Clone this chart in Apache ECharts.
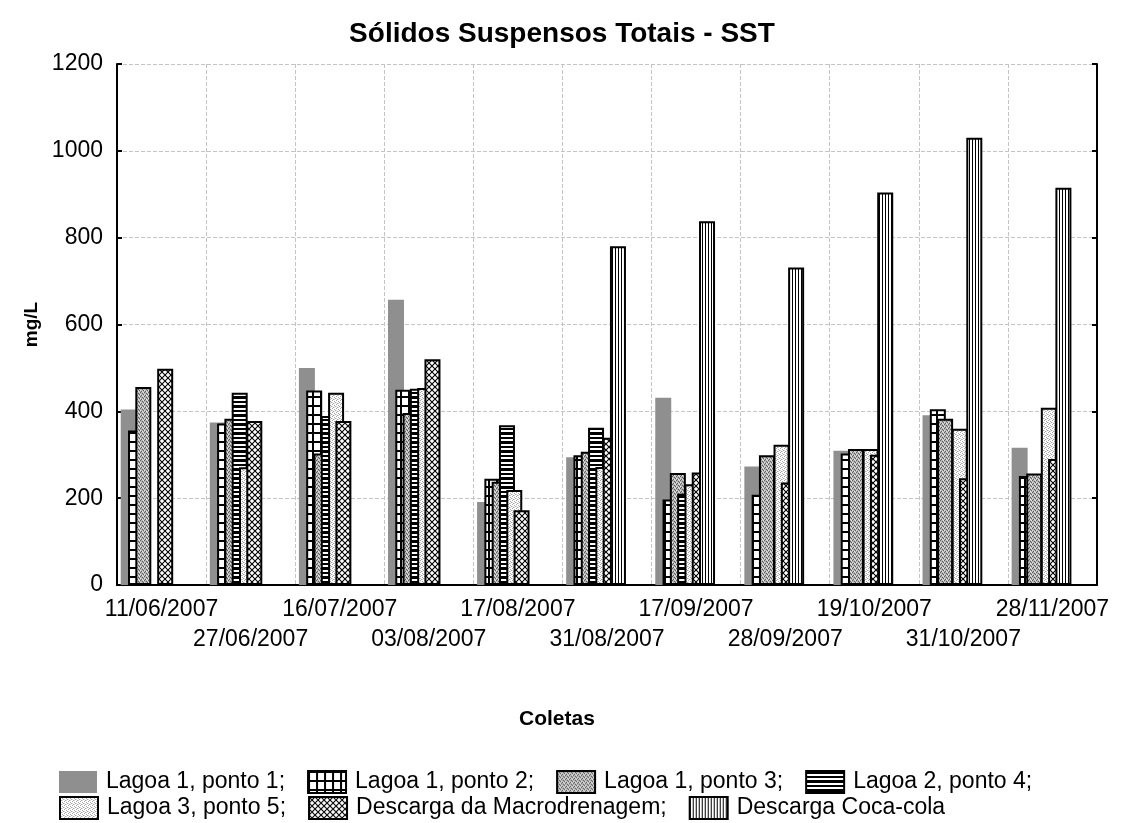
<!DOCTYPE html>
<html>
<head>
<meta charset="utf-8">
<script src="https://cdn.jsdelivr.net/npm/echarts@6/dist/echarts.min.js"></script>
<style>
html, body { margin: 0; padding: 0; background: #fff; }
#main { width: 1124px; height: 823px; }
</style>
</head>
<body>
<div id="main"></div>
<script>
var coletas = ['11/06/2007', '27/06/2007', '16/07/2007', '03/08/2007', '17/08/2007', '31/08/2007',
    '17/09/2007', '28/09/2007', '19/10/2007', '31/10/2007', '28/11/2007'];

var lagoa1p1 = [404, 374, 500, 657, 191, 294, 431, 273, 309, 391, 316];
var lagoa1p2 = [356, 372, 448, 450, 245, 299, 197, 208, 303, 405, 251];
var lagoa1p3 = [456, 383, 303, 396, 238, 307, 258, 299, 313, 383, 257];
var lagoa2p4 = [null, 443, 389, 452, 368, 362, 210, null, null, null, null];
var lagoa3p5 = [null, 271, 443, 454, 219, 272, 232, 323, 313, 360, 408];
var macro = [498, 378, 378, 520, 172, 339, 259, 236, 300, 246, 290];
var cocacola = [null, null, null, null, null, 780, 838, 731, 904, 1030, 915];

var yTicks = [0, 200, 400, 600, 800, 1000, 1200];

var nomes = ['Lagoa 1, ponto 1', 'Lagoa 1, ponto 2', 'Lagoa 1, ponto 3', 'Lagoa 2, ponto 4',
    'Lagoa 3, ponto 5', 'Descarga da Macrodrenagem', 'Descarga Coca-cola'];

// small canvas patterns to mimic the hatch fills
function pattern(w, h, draw) {
    var c = document.createElement('canvas');
    c.width = w;
    c.height = h;
    var ctx = c.getContext('2d');
    ctx.fillStyle = '#fff';
    ctx.fillRect(0, 0, w, h);
    draw(ctx);
    return { image: c, repeat: 'repeat' };
}

function dots(ctx, cor, pts) {
    ctx.fillStyle = cor;
    for (var k = 0; k < pts.length; k++) {
        ctx.fillRect(pts[k][0], pts[k][1], 1, 1);
    }
}

var patGrade = pattern(8, 9, function (ctx) {
    ctx.fillStyle = '#000';
    ctx.fillRect(0, 0, 8, 2);
    ctx.fillRect(0, 0, 2, 9);
});
var patPontos = pattern(4, 4, function (ctx) {
    ctx.fillStyle = '#b4b4b4';
    ctx.fillRect(0, 0, 4, 4);
    dots(ctx, '#5e5e5e', [[0, 0], [2, 1], [1, 3], [3, 2]]);
    dots(ctx, '#e6e6e6', [[2, 3], [0, 2], [3, 0]]);
});
var patListras = pattern(4, 9, function (ctx) {
    ctx.fillStyle = '#000';
    ctx.fillRect(0, 0, 4, 3);
    ctx.fillRect(0, 5, 4, 2);
});
var patClaro = pattern(4, 4, function (ctx) {
    dots(ctx, '#a6a6a6', [[0, 0], [2, 1], [1, 3], [3, 2]]);
    dots(ctx, '#d6d6d6', [[2, 3], [0, 2]]);
});
var patCruzado = pattern(6, 6, function (ctx) {
    ctx.strokeStyle = '#000';
    ctx.lineWidth = 1.1;
    ctx.beginPath();
    ctx.moveTo(-1, -1); ctx.lineTo(7, 7);
    ctx.moveTo(7, -1); ctx.lineTo(-1, 7);
    ctx.stroke();
});
var patVertical = pattern(3, 4, function (ctx) {
    ctx.fillStyle = '#000';
    ctx.fillRect(0, 0, 1, 4);
});

var fills = ['#8f8f8f', patGrade, patPontos, patListras, patClaro, patCruzado, patVertical];
var dados = [lagoa1p1, lagoa1p2, lagoa1p3, lagoa2p4, lagoa3p5, macro, cocacola];

var series = [];
for (var i = 0; i < dados.length; i++) {
    series.push({
        name: nomes[i],
        type: 'bar',
        barWidth: 16,
        barGap: '-54.4%',
        itemStyle: {
            color: fills[i],
            borderColor: i == 0 ? '#8f8f8f' : '#000',
            borderWidth: i == 0 ? 0 : 2
        },
        emphasis: { disabled: true },
        data: dados[i]
    });
}
// empty series so the group sits to the left of its slot, like the original
for (var j = 0; j < 3; j++) {
    series.push({ name: 'vazio' + j, type: 'bar', barWidth: 16, barGap: '-54.4%', data: [] });
}

var fonte = 'Liberation Sans, Arial, sans-serif';

var legendaBase = {
    left: 54,
    icon: 'rect',
    itemWidth: 38,
    itemHeight: 22,
    itemGap: 22,
    selectedMode: false,
    textStyle: { fontSize: 23, color: '#000', fontFamily: fonte, padding: [0, 0, 0, 4] }
};

var chart = echarts.init(document.getElementById('main'));
chart.setOption({
    animation: false,
    backgroundColor: '#fff',
    textStyle: { fontFamily: fonte },
    title: [{
        text: 'Sólidos Suspensos Totais - SST',
        left: 'center',
        top: 15,
        textStyle: { fontSize: 28, fontWeight: 'bold', color: '#000', fontFamily: fonte }
    }, {
        text: 'Coletas',
        left: 514,
        top: 704,
        textStyle: { fontSize: 21, fontWeight: 'bold', color: '#000', fontFamily: fonte }
    }],
    legend: [
        Object.assign({}, legendaBase, {
            data: nomes.slice(0, 4),
            top: 765,
            formatter: function (n) { return n + ';'; }
        }),
        Object.assign({}, legendaBase, {
            data: nomes.slice(4),
            top: 791,
            formatter: function (n) { return n == 'Descarga Coca-cola' ? n : n + ';'; }
        })
    ],
    grid: { left: 117, right: 27, top: 64, bottom: 238 },
    xAxis: [{
        type: 'category',
        data: coletas,
        axisLine: { lineStyle: { color: '#000', width: 2 } },
        axisTick: { inside: true, length: 4, lineStyle: { color: '#000', width: 2 } },
        splitLine: { show: true, lineStyle: { color: '#c4c4c4', type: 'dashed' } },
        axisLabel: {
            interval: 0,
            margin: 10,
            color: '#000',
            fontSize: 23,
            lineHeight: 30,
            formatter: function (v, idx) { return idx % 2 == 1 ? '\n' + v : v; }
        }
    }, {
        type: 'category',
        position: 'top',
        data: coletas,
        axisLine: { lineStyle: { color: '#000', width: 2 } },
        axisTick: { inside: true, length: 4, lineStyle: { color: '#000', width: 2 } },
        axisLabel: { show: false },
        splitLine: { show: false }
    }],
    yAxis: [{
        type: 'value',
        min: yTicks[0],
        max: yTicks[yTicks.length - 1],
        interval: 200,
        name: 'mg/L',
        nameLocation: 'middle',
        nameGap: 71,
        nameTextStyle: { fontSize: 19, fontWeight: 'bold', color: '#000' },
        axisLine: { show: true, lineStyle: { color: '#000', width: 2 } },
        axisTick: { show: true, inside: true, length: 5, lineStyle: { color: '#000', width: 2 } },
        splitLine: { show: true, lineStyle: { color: '#c4c4c4', type: 'dashed' } },
        axisLabel: {
            color: '#000',
            fontSize: 23,
            margin: 14,
            formatter: function (v) { return String(v); }
        }
    }, {
        type: 'value',
        position: 'right',
        min: yTicks[0],
        max: yTicks[yTicks.length - 1],
        interval: 200,
        axisLine: { show: true, lineStyle: { color: '#000', width: 2 } },
        axisTick: { show: true, inside: true, length: 5, lineStyle: { color: '#000', width: 2 } },
        splitLine: { show: false },
        axisLabel: { show: false }
    }],
    series: series
});
</script>
</body>
</html>
